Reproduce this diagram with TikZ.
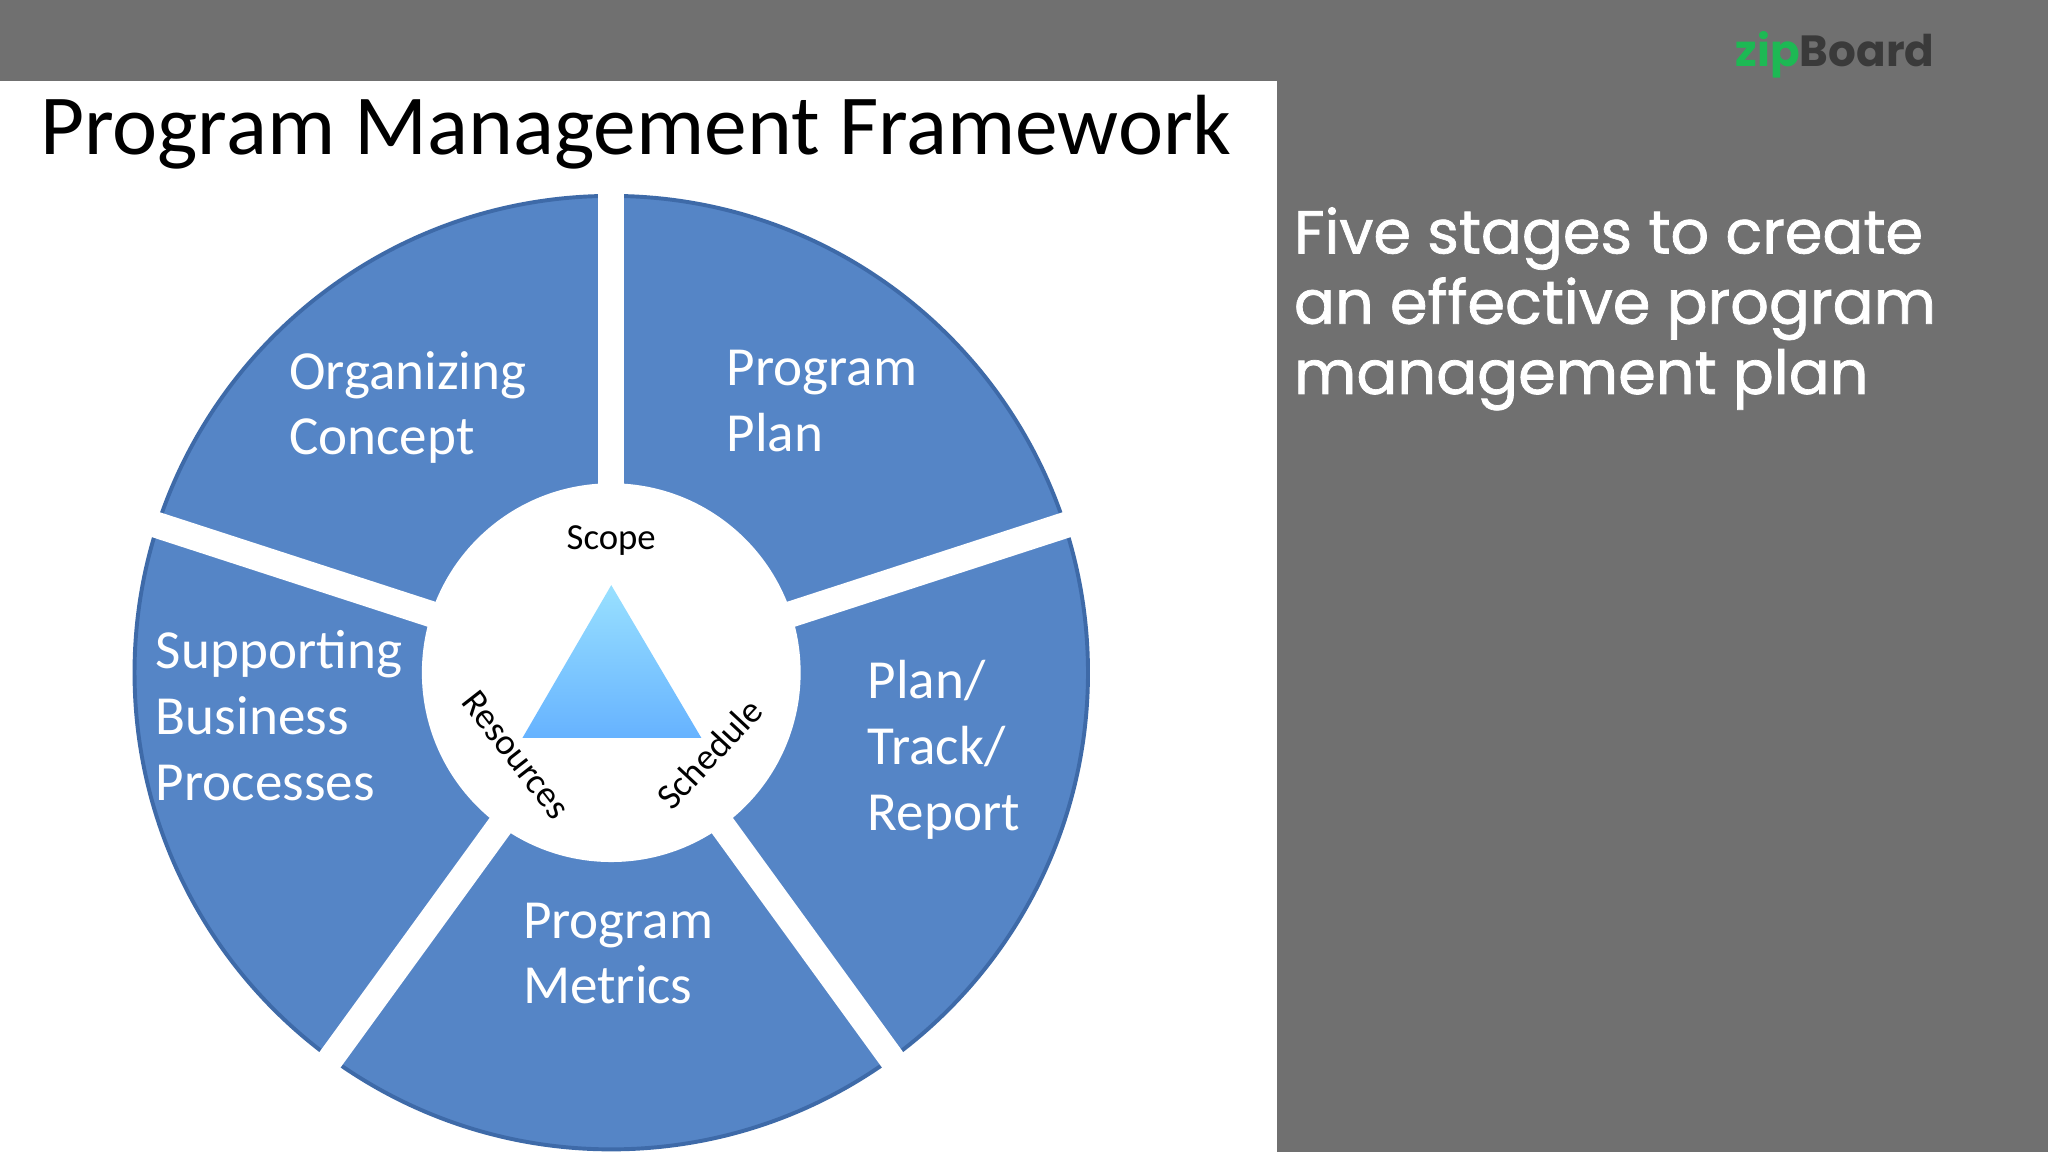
\documentclass[tikz,border=0pt]{standalone}
\usepackage{fontspec}
\setmainfont{Carlito}
\newfontfamily\pop{Poppins}
\newfontfamily\popm{Poppins}[FakeBold=1.2]
\usetikzlibrary{shadings}
\definecolor{bg}{HTML}{707070}
\definecolor{seg}{HTML}{5585C6}
\definecolor{segd}{HTML}{3E6AA8}
\definecolor{zipg}{HTML}{1DB954}
\definecolor{zipd}{HTML}{3A3A3A}
\tikzset{lab/.style={text=white,font=\fontsize{12}{14.3}\selectfont,align=left,anchor=west},
inner/.style={font=\fontsize{8}{9}\selectfont}}
\begin{document}
\begin{tikzpicture}[x=0.01cm,y=-0.01cm]
\useasboundingbox (0,0) rectangle (1568,882);
\fill[bg] (0,0) rectangle (1568,882);
\fill[white] (0,62) rectangle (978,882);
\node[anchor=base west,font=\fontsize{18.6}{20}\selectfont,inner sep=0] (title) at (30,118) {Program Management Framework};
\coordinate (c) at (468,515);
\fill[seg,draw=segd,line width=0.03cm] (c) circle[radius=365];
\foreach \a in {-90,-18,54,126,-162}
  \draw[white,line width=0.2cm] (c) -- ++(\a:380);
\fill[white] (c) circle[radius=145];
\shade[top color=blue!30!cyan!40,bottom color=cyan!50!blue!60] (468,448) -- (537,565) -- (400,565) -- cycle;
\node[inner] (scope) at (468,414) {Scope};
\node[inner,rotate=-52] (res) at (395,578) {Resources};
\node[inner,rotate=47] (sch) at (543,577) {Schedule};
\node[lab] (oc) at (209,312) {Organizing\\Concept};
\node[lab] (pp) at (544,307) {Program\\Plan};
\node[lab] (ptr) at (652,574) {Plan/\\Track/\\Report};
\node[lab] (sbp) at (107,548) {Supporting\\Business\\Processes};
\node[lab] (pm) at (388,730) {Program\\Metrics};
\node[anchor=north west,text=white,align=left,font=\popm\fontsize{13.2}{15.3}\selectfont,inner sep=0] (rt) at (990,158) {Five stages to create\\an effective program\\management plan};
\node[anchor=center,font=\pop\fontsize{9.5}{12}\selectfont\bfseries] (logo) at (1405,42) {\textcolor{zipg}{zip}\textcolor{zipd}{Board}};
\end{tikzpicture}
\end{document}
